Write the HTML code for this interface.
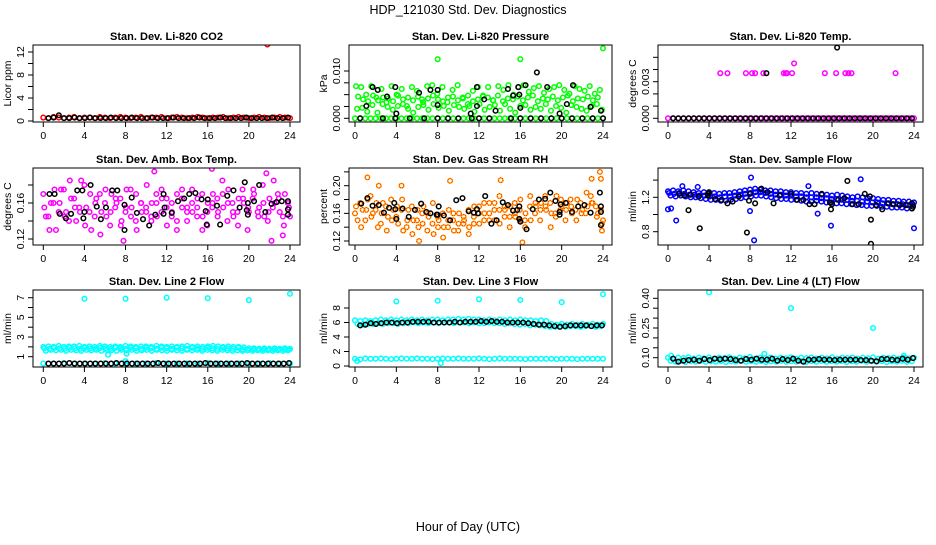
<!DOCTYPE html>
<html><head><meta charset="utf-8"><style>
body{margin:0;background:#fff;}
svg text{font-family:"Liberation Sans",Arial,sans-serif;}
</style></head><body>
<svg id="c" width="936" height="540" xmlns="http://www.w3.org/2000/svg">
<text x="468" y="14" text-anchor="middle" font-size="12.5">HDP_121030  Std. Dev. Diagnostics</text>
<text x="468" y="531" text-anchor="middle" font-size="12.5">Hour of Day (UTC)</text>
</svg>
<script>
// ---- data ----
const xTicks=[0,4,8,12,16,20,24];
// CO2
const co2Red=[0.6,0.5,0.7,0.6,0.5,0.6,0.7,0.5,0.6,0.6,0.5,0.7,0.6,0.5,0.6,0.7,0.6,0.5,0.6,0.7,0.5,0.6,0.6,0.7,0.5,0.6,0.7,0.6,0.5,0.6,0.7,0.6,0.5,0.6,0.6,0.7,0.5,0.6,0.7,0.6,0.5,0.6,0.7,0.6,0.5,0.6,0.7,0.6,0.5];
const co2RedOutH=[21.8];const co2RedOutV=[13.3];
const co2Black=[0.5,0.6,1.0,0.5,0.5,0.6,0.5,0.5,0.6,0.5,0.5,0.5,0.6,0.5,0.5,0.5,0.6,0.5,0.5,0.5,0.6,0.5,0.5,0.5,0.6,0.5,0.5,0.5,0.5,0.6,0.5,0.5,0.5,0.6,0.5,0.5,0.5,0.5,0.6,0.5,0.5,0.5,0.5,0.6,0.5,0.5,0.6];
// Pressure
const presZero=[0,0,0,0,0,0,0,0,0,0,0,0,0,0,0,0,0,0,0,0,0,0,0,0,0,0,0,0,0,0,0,0,0,0,0,0,0,0,0,0,0,0,0,0,0,0,0,0,0];
const presUpper=[.0068,.0066,.0050,.0068,.0044,.0062,.0034,.0068,.0050,.0062,.0026,.0066,.0058,.0040,.0068,.0070,.0052,.0066,.0034,.0060,.0070,.0044,.0030,.0058,.0066,.0048,.0066,.0038,.0068,.0060,.0070,.0050,.0066,.0070,.0056,.0064,.0068,.0054,.0062,.0066,.0070,.0060,.0052,.0068,.0062,.0058,.0068,.0052,.0060];
const presMid=[.0046,.0040,.0036,.0048,.0038,.0044,.0042,.0036,.0048,.0040,.0044,.0038,.0046,.0034,.0042,.0048,.0040,.0036,.0044,.0046,.0038,.0042,.0048,.0036,.0040,.0046,.0044,.0038,.0048,.0036,.0042,.0040,.0046,.0038,.0044,.0048,.0036,.0042,.0040,.0046,.0038,.0044,.0048,.0036,.0042,.0040,.0046,.0038,.0044];
const presLower=[.0020,.0022,.0014,.0028,.0012,.0030,.0024,.0018,.0026,.0030,.0020,.0012,.0024,.0028,.0018,.0030,.0022,.0026,.0016,.0028,.0024,.0020,.0026,.0014,.0030,.0018,.0024,.0028,.0016,.0030,.0020,.0012,.0026,.0028,.0018,.0024,.0020,.0030,.0016,.0026,.0022,.0012,.0028,.0024,.0020,.0016,.0026,.0030,.0018];
const presOutH=[8,16,24];const presOutV=[.0125,.0125,.0148];
const presBlackH=[1.1,1.7,2.2,3.1,3.9,4.0,6.2,7.3,8.0,8.0,11.2,11.8,11.8,12.5,13.6,14.8,15.3,15.8,15.9,16.0,16.5,17.6,18.6,19.8,20.5,21.1,22.8,23.8,0.5,2.7,3.9,5.3,6.7,8,9,10,11.3,12,13,15.1,16,17,18,19,20,21,22,23,24];
const presBlackV=[.0026,.0066,.0060,.0046,.0066,.0010,.0054,.0060,.0028,.0060,.0010,.0066,.0026,.0040,.0016,.0062,.0048,.0066,.0050,.0022,.0070,.0097,.0066,.0010,.0030,.0070,.0024,.0016,0,0,0,0,0,0,0,0,0,0,0,0,0,0,0,0,0,0,0,0,0];
// Temp
const tempZero=[0,0,0,0,0,0,0,0,0,0,0,0,0,0,0,0,0,0,0,0,0,0,0,0,0,0,0,0,0,0,0,0,0,0,0,0,0,0,0,0,0,0,0,0,0,0,0,0,0];
const tempHighH=[5.1,5.8,7.6,8.2,8.5,9.3,11.3,11.5,11.6,12.1,15.3,16.4,17.3,17.6,17.9,22.2,12.3];
const tempHighV=[.0037,.0037,.0037,.0037,.0037,.0037,.0037,.0037,.0037,.0037,.0037,.0037,.0037,.0037,.0037,.0037,.0045];
const tempBlack=[0,0,0,0,0,0,0,0,0,0,0,0,0,0,0,0,0,0,0,0,0,0,0,0,0,0,0,0,0,0,0,0,0,0,0,0,0,0,0,0,0,0,0,0,0,0,0];
const tempBlackOutH=[9.6,16.5];const tempBlackOutV=[.0037,.0058];
// Amb box temp
const ambA=[.170,.145,.160,.150,.175,.140,.165,.155,.180,.150,.145,.170,.160,.135,.155,.165,.150,.175,.140,.160,.155,.145,.170,.150,.165,.160,.140,.175,.155,.150,.165,.145,.160,.170,.150,.155,.175,.145,.165,.160,.150,.170,.155,.145,.165,.160,.150,.170,.145];
const ambB=[.145,.160,.130,.175,.150,.165,.140,.185,.155,.130,.165,.150,.145,.170,.160,.140,.175,.155,.130,.150,.180,.160,.145,.165,.135,.150,.170,.155,.140,.160,.145,.170,.135,.155,.165,.185,.140,.160,.150,.175,.130,.165,.150,.180,.140,.155,.170,.145,.160];
const ambC=[.155,.130,.175,.160,.145,.185,.155,.150,.135,.170,.160,.125,.175,.150,.165,.135,.155,.145,.170,.160,.150,.140,.160,.175,.155,.145,.130,.165,.150,.175,.155,.130,.150,.160,.145,.170,.160,.150,.135,.165,.155,.175,.145,.160,.150,.185,.165,.135,.155];
const ambOutH=[10.8,16.4,19.5,21.7,22.2,7.8,23.3];const ambOutV=[.195,.198,.203,.193,.118,.118,.124];
const ambBlackH=[0.6,1.1,1.6,2.2,2.7,3.3,3.8,3.9,4,4.6,5.2,5.6,6.1,6.7,7.2,7.9,7.9,8.6,9.1,9.7,10.3,10.9,11.7,11.8,11.7,12.5,13.1,13.7,14.2,14.8,15.4,15.8,15.9,16.0,16.9,17.2,17.9,18.5,19.1,19.6,19.8,19.9,19.9,20.5,21.0,21.6,22.2,22.7,23.2,23.8,23.8,23.8];
const ambBlackV=[.17,.17,.148,.143,.148,.174,.174,.143,.15,.18,.156,.142,.155,.174,.174,.158,.13,.166,.149,.142,.135,.147,.17,.155,.148,.149,.162,.165,.17,.171,.164,.151,.136,.164,.157,.136,.168,.174,.155,.183,.152,.16,.147,.162,.18,.15,.159,.161,.162,.162,.153,.147];
// RH
const rhA=[.160,.175,.150,.185,.165,.145,.170,.180,.155,.165,.140,.170,.150,.160,.135,.145,.155,.160,.140,.150,.135,.145,.165,.155,.170,.150,.160,.175,.145,.165,.170,.155,.180,.160,.150,.170,.175,.165,.160,.185,.170,.175,.160,.180,.165,.170,.175,.160,.150];
const rhB=[.150,.165,.180,.160,.140,.175,.155,.165,.145,.135,.165,.150,.140,.170,.155,.130,.150,.140,.165,.135,.160,.150,.140,.170,.145,.160,.175,.150,.165,.155,.140,.175,.165,.150,.170,.160,.150,.185,.175,.160,.165,.150,.180,.165,.175,.160,.185,.170,.165];
const rhC=[.170,.140,.165,.155,.175,.160,.135,.150,.170,.180,.150,.130,.165,.145,.160,.175,.140,.125,.150,.160,.145,.155,.130,.145,.160,.175,.150,.165,.185,.170,.155,.160,.150,.140,.185,.175,.165,.170,.140,.155,.180,.165,.170,.150,.160,.190,.175,.155,.145];
const rhOutH=[1.2,2.3,4.5,9.2,14.1,22.9,23.7,23.8,16.2,23.9,6.2];const rhOutV=[.212,.200,.200,.207,.208,.210,.220,.210,.118,.135,.120];
const rhBlackH=[0.6,1.2,1.7,2.3,2.8,3.3,3.8,3.9,4,4.6,5.2,5.8,6.4,6.9,7.3,7.9,8.0,8.1,8.6,9.2,9.8,10.4,11.0,11.5,11.8,11.9,12.6,13.2,13.7,14.3,14.8,15.3,15.7,15.9,15.9,16.0,16.6,17.2,17.8,18.4,18.9,19.4,19.8,19.8,19.9,20.4,21.0,21.6,22.2,22.8,23.7,23.8,23.8,23.8];
const rhBlackV=[.174,.182,.171,.172,.161,.168,.175,.166,.152,.167,.155,.165,.174,.162,.160,.158,.158,.170,.157,.150,.179,.182,.163,.161,.166,.160,.185,.145,.150,.176,.172,.164,.165,.170,.152,.148,.137,.166,.180,.181,.190,.178,.158,.162,.173,.175,.162,.170,.172,.161,.190,.170,.162,.143];
// Sample flow
const sfA=[1.27,1.28,1.27,1.28,1.27,1.26,1.25,1.26,1.25,1.25,1.24,1.25,1.25,1.26,1.27,1.28,1.29,1.30,1.29,1.28,1.28,1.27,1.27,1.26,1.26,1.25,1.25,1.24,1.25,1.24,1.23,1.23,1.22,1.23,1.22,1.21,1.20,1.21,1.20,1.19,1.19,1.18,1.17,1.17,1.16,1.16,1.15,1.15,1.14];
const sfB=[1.22,1.21,1.22,1.21,1.20,1.20,1.19,1.18,1.17,1.17,1.16,1.16,1.17,1.18,1.19,1.20,1.21,1.22,1.22,1.21,1.20,1.19,1.18,1.18,1.17,1.17,1.16,1.15,1.15,1.16,1.15,1.14,1.14,1.13,1.13,1.12,1.12,1.11,1.11,1.10,1.10,1.10,1.09,1.09,1.08,1.08,1.08,1.07,1.07];
const sfC=[1.25,1.24,1.25,1.24,1.23,1.23,1.22,1.22,1.21,1.21,1.20,1.21,1.21,1.22,1.23,1.24,1.25,1.26,1.26,1.25,1.24,1.23,1.23,1.22,1.22,1.21,1.21,1.20,1.20,1.20,1.19,1.19,1.18,1.18,1.17,1.17,1.16,1.16,1.15,1.15,1.14,1.14,1.13,1.13,1.12,1.12,1.12,1.11,1.11];
const sfOutH=[0,0.3,0.8,1.4,2.9,8.0,8.1,8.4,13.7,14.6,15.9,18.8,24];const sfOutV=[1.06,1.07,0.93,1.33,1.32,1.04,1.43,0.70,1.33,1.01,0.87,1.41,0.84];
const sfBlackH=[1.1,1.6,2.0,2.2,3.0,3.1,3.9,3.9,4.0,4.6,5.2,5.8,6.3,6.9,7.7,7.9,8.0,8.5,9.1,9.7,10.3,10.9,12.0,12.6,13.2,13.8,14.3,15.0,15.8,15.9,16.0,16.6,17.2,17.5,18.0,18.6,19.2,19.7,19.8,19.8,20.3,20.9,21.5,22.0,22.6,23.2,23.8,23.8,23.9];
const sfBlackV=[1.24,1.22,1.05,1.23,1.21,0.84,1.24,1.22,1.26,1.18,1.17,1.13,1.15,1.21,0.79,1.16,1.24,1.13,1.30,1.26,1.13,1.22,1.24,1.17,1.17,1.12,1.12,1.24,1.14,1.06,1.12,1.17,1.19,1.39,1.12,1.12,1.24,1.21,0.94,0.66,1.11,1.06,1.13,1.12,1.11,1.11,1.13,1.07,1.09];
// Line 2
const l2A=[2.0,2.05,2.0,2.1,2.0,2.05,2.05,2.1,2.0,2.05,2.0,2.1,2.05,2.0,2.05,2.0,2.1,2.05,2.0,2.05,2.05,2.0,2.1,2.05,2.0,2.05,2.0,2.05,2.1,2.0,2.05,2.0,2.05,2.1,2.05,2.0,2.05,2.0,2.0,1.95,1.85,1.85,1.8,1.85,1.8,1.85,1.8,1.85,1.8];
const l2B=[1.6,1.7,1.65,1.7,1.6,1.7,1.65,1.6,1.7,1.65,1.7,1.6,1.7,1.65,1.6,1.7,1.65,1.7,1.6,1.65,1.7,1.6,1.7,1.65,1.6,1.7,1.65,1.6,1.7,1.65,1.7,1.6,1.7,1.65,1.6,1.7,1.65,1.6,1.65,1.6,1.65,1.6,1.65,1.6,1.65,1.6,1.65,1.6,1.65];
const l2C=[1.85,1.8,1.9,1.85,1.8,1.9,1.85,1.8,1.9,1.85,1.8,1.9,1.85,1.8,1.9,1.85,1.8,1.9,1.85,1.8,1.9,1.85,1.8,1.9,1.85,1.8,1.9,1.85,1.8,1.9,1.85,1.8,1.9,1.85,1.8,1.9,1.85,1.8,1.9,1.75,1.7,1.75,1.7,1.75,1.7,1.75,1.7,1.75,1.7];
const l2Low=[0.3,0.3,0.35,0.3,0.3,0.3,0.35,0.3,0.3,0.3,0.3,0.35,0.3,0.3,0.3,0.3,0.35,0.3,0.3,0.3,0.3,0.3,0.35,0.3,0.3];
const l2OutH=[4,8,12,16,20,24,6.3,8.1,8.0];const l2OutV=[6.9,6.9,7.0,6.95,6.75,7.4,1.2,1.3,0.55];
const l2Black=[0.3,0.3,0.3,0.3,0.35,0.3,0.3,0.3,0.3,0.3,0.3,0.3,0.3,0.35,0.3,0.3,0.3,0.3,0.3,0.3,0.3,0.35,0.3,0.3,0.3,0.3,0.3,0.3,0.3,0.3,0.35,0.3,0.3,0.3,0.3,0.3,0.3,0.3,0.35,0.3,0.3,0.3,0.3,0.3,0.3,0.3,0.35];
// Line 3
const l3A=[6.3,6.2,6.3,6.2,6.3,6.4,6.3,6.4,6.3,6.4,6.3,6.4,6.3,6.4,6.3,6.4,6.4,6.3,6.4,6.4,6.5,6.4,6.5,6.4,6.4,6.3,6.4,6.3,6.4,6.3,6.4,6.3,6.4,6.3,6.3,6.2,6.3,6.2,5.8,5.7,5.8,5.7,5.8,5.7,5.8,5.7,5.8,5.7,5.8];
const l3B=[5.8,5.7,5.8,5.8,5.9,5.8,5.9,5.9,5.8,5.9,5.9,6.0,5.9,6.0,5.9,6.0,5.9,6.0,6.0,5.9,6.0,6.0,5.9,6.0,5.9,5.9,6.0,5.9,5.9,5.8,5.9,5.8,5.7,5.8,5.6,5.7,5.6,5.5,5.4,5.4,5.5,5.4,5.5,5.5,5.4,5.5,5.5,5.4,5.5];
const l3Low=[1.0,0.9,1.05,1.0,1.0,1.05,1.0,0.95,1.0,1.05,1.0,1.0,1.05,1.0,1.0,0.95,1.0,1.05,1.0,1.0,1.05,1.0,1.0,1.0,1.05,1.0,0.95,1.0,1.05,1.0,1.0,1.0,1.0,0.95,1.0,1.0,1.0,1.0,1.0,0.95,1.0,1.0,1.0,0.95,1.0,1.0,1.0,1.0,1.0];
const l3OutH=[4,8,12,16,20,24,8.3,0.2];const l3OutV=[8.9,9.0,9.2,9.1,8.8,9.9,0.4,0.7];
const l3Black=[5.6,5.7,5.9,5.8,5.9,6.0,6.0,5.9,6.0,6.0,6.1,6.1,6.1,6.1,6.0,6.0,6.0,6.0,6.1,6.0,6.1,6.1,6.1,6.2,6.1,6.2,6.1,6.1,6.0,6.0,6.0,6.0,5.9,5.8,5.7,5.7,5.6,5.5,5.4,5.5,5.6,5.6,5.6,5.6,5.5,5.6,5.6];
// Line 4
const l4A=[.100,.095,.100,.098,.102,.096,.100,.097,.101,.095,.100,.098,.102,.096,.100,.097,.104,.095,.100,.098,.101,.096,.100,.097,.102,.095,.100,.098,.101,.096,.100,.097,.102,.095,.100,.098,.101,.096,.100,.097,.102,.095,.100,.098,.101,.096,.100,.097,.100];
const l4B=[.085,.080,.083,.078,.082,.080,.084,.079,.082,.080,.083,.078,.082,.080,.084,.079,.082,.080,.083,.078,.082,.080,.084,.079,.082,.080,.083,.078,.082,.080,.084,.079,.082,.080,.083,.078,.082,.080,.084,.079,.082,.080,.083,.078,.082,.080,.084,.079,.082];
const l4OutH=[4,12,20,9.4,0.3,23];const l4OutV=[.43,.35,.25,.12,.11,.11];
const l4Black=[.095,.080,.085,.088,.090,.085,.093,.088,.095,.092,.095,.093,.088,.085,.093,.090,.095,.090,.090,.095,.085,.093,.088,.095,.085,.080,.090,.090,.093,.090,.090,.088,.090,.090,.090,.090,.088,.088,.085,.082,.093,.093,.090,.088,.095,.090,.098];

// ---- layout ----
const C=[{L:33,R:300,x0:43.3,x24:290},{L:349,R:612,x0:355,x24:603},{L:658,R:923,x0:668,x24:914}];
const RW=[{T:45,B:122},{T:168,B:245},{T:290,B:367}];
const svg=document.getElementById('c');const NS='http://www.w3.org/2000/svg';
function mk(t,a,p){const e=document.createElementNS(NS,t);for(const k in a)e.setAttribute(k,a[k]);(p||svg).appendChild(e);return e;}

const panels=[
 {c:0,r:0,title:'Stan. Dev. Li-820 CO2',ylab:'Licor ppm',v1:0,p1:121,v2:12,p2:52,ticks:[0,2,4,6,8,10,12],labels:[0,4,8,12],fmt:v=>String(v),
  series:[{col:'#ff0000',vals:co2Red,a:0,b:24},{col:'#ff0000',vals:co2RedOutV,hours:co2RedOutH},{col:'#000',vals:co2Black,a:0.5,b:23.8}]},
 {c:1,r:0,title:'Stan. Dev. Li-820 Pressure',ylab:'kPa',v1:0,p1:118.3,v2:0.01,p2:71,ticks:[0,0.0025,0.005,0.0075,0.01],labels:[0,0.01],fmt:v=>v.toFixed(3),
  series:[{col:'#00ff00',vals:presZero,a:0,b:24},{col:'#00ff00',vals:presUpper,a:0.1,b:23.7},{col:'#00ff00',vals:presMid,a:0.3,b:23.5},{col:'#00ff00',vals:presLower,a:0.2,b:23.9},{col:'#00ff00',vals:presOutV,hours:presOutH},{col:'#000',vals:presBlackV,hours:presBlackH}]},
 {c:2,r:0,title:'Stan. Dev. Li-820 Temp.',ylab:'degrees C',v1:0,p1:118.3,v2:0.003,p2:81.7,ticks:[0,0.001,0.002,0.003,0.004,0.005],labels:[0,0.003],fmt:v=>v.toFixed(3),
  series:[{col:'#ff00ff',vals:tempZero,a:0,b:24},{col:'#ff00ff',vals:tempHighV,hours:tempHighH},{col:'#000',vals:tempBlack,a:0.5,b:23.8},{col:'#000',vals:tempBlackOutV,hours:tempBlackOutH}]},
 {c:0,r:1,title:'Stan. Dev. Amb. Box Temp.',ylab:'degrees C',v1:0.12,p1:239,v2:0.16,p2:203,ticks:[0.12,0.14,0.16,0.18],labels:[0.12,0.16],fmt:v=>v.toFixed(2),
  series:[{col:'#ff00ff',vals:ambA,a:0,b:24},{col:'#ff00ff',vals:ambB,a:0.25,b:23.8},{col:'#ff00ff',vals:ambC,a:0.1,b:23.9},{col:'#ff00ff',vals:ambOutV,hours:ambOutH},{col:'#000',vals:ambBlackV,hours:ambBlackH}]},
 {c:1,r:1,title:'Stan. Dev. Gas Stream RH',ylab:'percent',v1:0.12,p1:241,v2:0.20,p2:185.7,ticks:[0.12,0.14,0.16,0.18,0.2,0.22],labels:[0.12,0.16,0.2],fmt:v=>v.toFixed(2),rh:true,
  series:[{col:'#ffa500',vals:rhA,a:0,b:24},{col:'#ffa500',vals:rhB,a:0.25,b:23.8},{col:'#ffa500',vals:rhC,a:0.1,b:23.9},{col:'#ffa500',vals:rhOutV,hours:rhOutH},{col:'#000',vals:rhBlackV,hours:rhBlackH}]},
 {c:2,r:1,title:'Stan. Dev. Sample Flow',ylab:'ml/min',v1:0.8,p1:231.7,v2:1.2,p2:197.3,ticks:[0.8,1.0,1.2,1.4],labels:[0.8,1.2],fmt:v=>v.toFixed(1),
  series:[{col:'#0000ff',vals:sfA,a:0,b:24},{col:'#0000ff',vals:sfB,a:0.25,b:23.8},{col:'#0000ff',vals:sfC,a:0.1,b:23.9},{col:'#0000ff',vals:sfOutV,hours:sfOutH},{col:'#000',vals:sfBlackV,hours:sfBlackH}]},
 {c:0,r:2,title:'Stan. Dev. Line 2 Flow',ylab:'ml/min',v1:1,p1:356.7,v2:7,p2:297.7,ticks:[1,2,3,4,5,6,7],labels:[1,3,5,7],fmt:v=>String(v),
  series:[{col:'#00ffff',vals:l2A,a:0,b:24},{col:'#00ffff',vals:l2B,a:0.25,b:23.8},{col:'#00ffff',vals:l2C,a:0.1,b:23.9},{col:'#00ffff',vals:l2Low,a:0,b:24},{col:'#00ffff',vals:l2OutV,hours:l2OutH},{col:'#000',vals:l2Black,a:0.5,b:23.9}]},
 {c:1,r:2,title:'Stan. Dev. Line 3 Flow',ylab:'ml/min',v1:0,p1:366,v2:8,p2:308,ticks:[0,2,4,6,8],labels:[0,2,4,6,8],fmt:v=>String(v),
  series:[{col:'#00ffff',vals:l3A,a:0,b:24},{col:'#00ffff',vals:l3B,a:0.25,b:23.8},{col:'#00ffff',vals:l3Low,a:0,b:24},{col:'#00ffff',vals:l3OutV,hours:l3OutH},{col:'#000',vals:l3Black,a:0.5,b:23.9}]},
 {c:2,r:2,title:'Stan. Dev. Line 4 (LT) Flow',ylab:'ml/min',v1:0.10,p1:357.7,v2:0.40,p2:298.3,ticks:[0.1,0.15,0.2,0.25,0.3,0.35,0.4],labels:[0.1,0.25,0.4],fmt:v=>v.toFixed(2),
  series:[{col:'#00ffff',vals:l4A,a:0,b:24},{col:'#00ffff',vals:l4B,a:0.25,b:23.8},{col:'#00ffff',vals:l4OutV,hours:l4OutH},{col:'#000',vals:l4Black,a:0.5,b:23.9}]}
];

panels.forEach((P,pi)=>{
 const cc=C[P.c],rr=RW[P.r];
 const xs=h=>cc.x0+(cc.x24-cc.x0)*h/24;
 const ys=v=>P.p1+(P.p2-P.p1)*(v-P.v1)/(P.v2-P.v1);
 const g=mk('g',{});
 
 
 const t=mk('text',{x:(cc.L+cc.R)/2,y:rr.T-5,'text-anchor':'middle','font-size':11,'font-weight':'bold'},g);t.textContent=P.title;
 
 
 const yl=mk('text',{x:0,y:0,'text-anchor':'middle','font-size':10.5,transform:`translate(${cc.L-22},${(rr.T+rr.B)/2}) rotate(-90)`},g);yl.textContent=P.ylab;
 
 
 const yt0=ys(P.ticks[0]),yt1=ys(P.ticks[P.ticks.length-1]);
 mk('line',{x1:cc.L,x2:cc.L,y1:yt0,y2:yt1,stroke:'#000'},g);
 P.ticks.forEach(v=>{mk('line',{x1:cc.L-5,x2:cc.L,y1:ys(v),y2:ys(v),stroke:'#000'},g);});
 P.labels.forEach(v=>{const e=mk('text',{x:0,y:0,'text-anchor':'middle','font-size':10.5,transform:`translate(${cc.L-9},${ys(v)}) rotate(-90)`},g);e.textContent=P.fmt(v);
  
  });
 mk('line',{x1:xs(0),x2:xs(24),y1:rr.B,y2:rr.B,stroke:'#000'},g);
 xTicks.forEach(h=>{mk('line',{x1:xs(h),x2:xs(h),y1:rr.B,y2:rr.B+5,stroke:'#000'},g);
  const e=mk('text',{x:xs(h),y:rr.B+17,'text-anchor':'middle','font-size':10.5},g);e.textContent=h;
  
  });
 const clip='cl'+pi;const cp=mk('clipPath',{id:clip},g);mk('rect',{x:cc.L,y:rr.T,width:cc.R-cc.L,height:rr.B-rr.T},cp);
 const pg=mk('g',{'clip-path':`url(#${clip})`},g);
 P.series.forEach(s=>{
  s.vals.forEach((v,i)=>{
   const h=s.hours?s.hours[i]:s.a+(s.b-s.a)*i/(s.vals.length-1);
   const c=mk('circle',{cx:xs(h),cy:ys(v),r:2.3,fill:'none',stroke:s.col,'stroke-width':1.5},pg);
   
   
   if(P.rh&&s.col!=='#000'){const d=mk('circle',{cx:xs(h),cy:ys(v),r:2.3,fill:'none',stroke:'#ff0000','stroke-width':0.7,'stroke-dasharray':'1 1'},pg);
    
    }
  });
 });
 const box=mk('rect',{x:cc.L,y:rr.T,width:cc.R-cc.L,height:rr.B-rr.T,fill:'none',stroke:'#000'},g);
 
 
});
</script>
</body></html>
